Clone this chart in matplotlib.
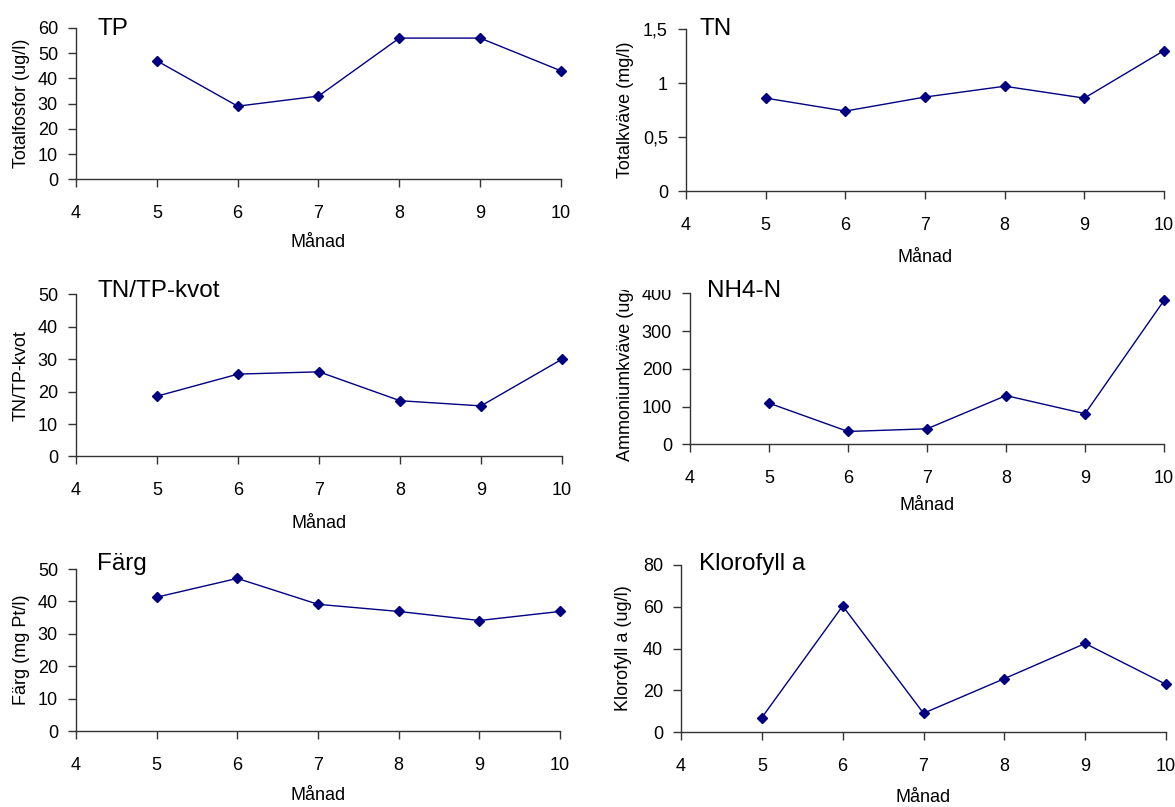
import matplotlib
matplotlib.use('Agg')

import matplotlib.pyplot as plt
from matplotlib.transforms import Bbox, TransformedBbox

plt.rcParams['font.family'] = ['Liberation Sans', 'DejaVu Sans']

# data (month 5..10)
months = [5, 6, 7, 8, 9, 10]
tp = [47, 29, 33, 56, 56, 43]
tn = [0.86, 0.74, 0.87, 0.97, 0.86, 1.30]
tn_tp = [18.6, 25.4, 26.1, 17.2, 15.6, 30.0]
nh4 = [109, 34, 41, 129, 81, 381]
farg = [41.3, 47.1, 39.1, 36.9, 34.1, 36.9]
klorofyll = [7.0, 60.3, 9.1, 25.6, 42.4, 22.9]

x_ticks = [4, 5, 6, 7, 8, 9, 10]

W, H = 1175, 807
fig = plt.figure(figsize=(W / 100, H / 100), dpi=100)

# one entry per panel: values, title, ylabel, yticks, yticklabels,
# axes box in pixels (left, top, right, bottom), title pos, ylabel x, xlabel top
panels = [
    (tp, 'TP', 'Totalfosfor (ug/l)', [0, 10, 20, 30, 40, 50, 60], None,
     (76, 28, 561, 179.3), (97, 35), 21.5, 234),
    (tn, 'TN', 'Totalkväve (mg/l)', [0, 0.5, 1, 1.5], ['0', '0,5', '1', '1,5'],
     (686, 29, 1164, 191), (699, 35), 625, 249),
    (tn_tp, 'TN/TP-kvot', 'TN/TP-kvot', [0, 10, 20, 30, 40, 50], None,
     (76, 294.3, 562, 456.5), (97, 297), 21.5, 515.5),
    (nh4, 'NH4-N', 'Ammoniumkväve (ug/l)', [0, 100, 200, 300, 400], None,
     (690, 293.3, 1164, 444.3), (707, 296.5), 625, 497),
    (farg, 'Färg', 'Färg (mg Pt/l)', [0, 10, 20, 30, 40, 50], None,
     (76, 569, 560, 731), (97, 570), 21.5, 787),
    (klorofyll, 'Klorofyll a', 'Klorofyll a (ug/l)', [0, 20, 40, 60, 80], None,
     (681, 564.7, 1166, 732.3), (699, 570), 623.5, 789),
]

axis_color = '#333333'

for vals, title, ylab, yt, ytl, box, tpos, ylx, xlt in panels:
    l, t, r, b = box
    ax = fig.add_axes([l / W, 1 - b / H, (r - l) / W, (b - t) / H])
    ax.plot(months, vals, color='#000080', lw=1.0, marker='D', ms=5,
            clip_on=False, zorder=3)
    ax.set_xlim(4, 10)
    ax.set_ylim(yt[0], yt[-1])
    ax.set_xticks(x_ticks)
    ax.set_yticks(yt)
    if ytl:
        ax.set_yticklabels(ytl)
    for s in ['top', 'right']:
        ax.spines[s].set_visible(False)
    for s in ['left', 'bottom']:
        ax.spines[s].set_color(axis_color)
        ax.spines[s].set_linewidth(1.0)
    ax.tick_params(axis='both', direction='out', length=6, width=1.0,
                   color=axis_color, labelsize=13, labelcolor='black')
    ax.tick_params(axis='x', pad=12.5)
    ax.tick_params(axis='y', pad=7)

    ax.set_xlabel('Månad', fontsize=13)
    ax.xaxis.label.set_va('top')
    ax.xaxis.set_label_coords(0.5, (b - xlt) / (b - t))

    ax.set_ylabel(ylab, fontsize=13)
    ax.yaxis.label.set_va('center')
    ax.yaxis.set_label_coords((ylx - l) / (r - l), 0.5)

    fig.text(tpos[0] / W, 1 - tpos[1] / H, title, fontsize=17.5,
             ha='left', va='baseline')

    if title == 'NH4-N':
        # the top of this chart is cut off in the original
        clip = TransformedBbox(Bbox([[0, 0], [1, 1 - 290 / H]]), fig.transFigure)
        for txt in [ax.yaxis.label] + ax.get_yticklabels():
            txt.set_clip_box(clip)
            txt.set_clip_on(True)

fig.savefig('out.png', dpi=100)
